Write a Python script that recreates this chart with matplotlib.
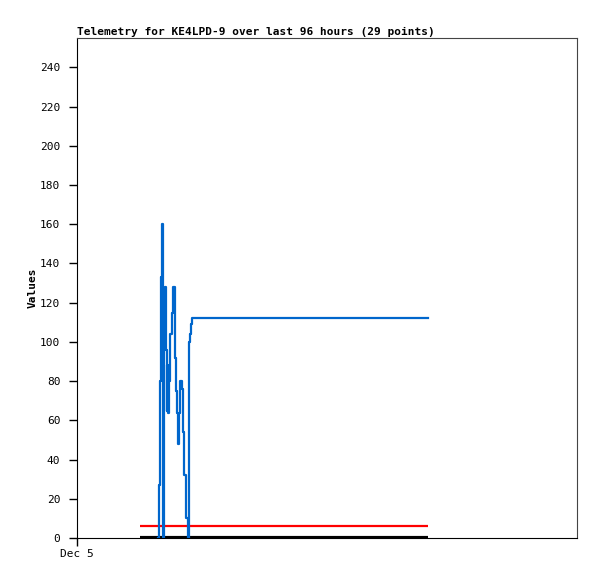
import numpy as np
import matplotlib
matplotlib.use('Agg')
import matplotlib.pyplot as plt

# hours since Dec 5 00:00
blue_t = [19.32, 19.68, 19.92, 20.16, 20.40, 20.64, 20.76, 20.88, 21.12, 21.36, 21.53, 21.60,
          21.84, 22.08, 22.32, 22.68, 23.04, 23.40, 23.76, 24.00, 24.24, 24.48, 24.72, 25.20,
          25.44, 25.68, 26.04, 26.52, 26.76, 26.88, 27.12, 27.36, 27.60, 84.24]
blue_v = [0, 27, 80, 133, 160, 0, 21, 106, 128, 96, 65, 88,
          64, 80, 104, 115, 128, 92, 75, 64, 48, 64, 80, 76,
          54, 32, 10, 0, 48, 100, 104, 109, 112, 112]
red_t = [15.12, 84.24]
red_v = [6, 6]
black_t = [15.12, 84.24]
black_v = [0, 0]

yticks = list(range(0, 241, 20))
xtick_pos = [0]
xtick_lab = ['Dec 5']

plt.rcParams['font.family'] = 'DejaVu Sans Mono'
fig = plt.figure(figsize=(5.97, 5.79), dpi=100)
ax = fig.add_axes([77/597, 41/579, 500/597, 500/579])

ax.plot(black_t, black_v, color='black', lw=3, solid_capstyle='butt', zorder=2)
ax.plot(red_t, red_v, color='#ff0000', lw=1.6, solid_capstyle='butt', zorder=3)
ax.plot(blue_t, blue_v, color='#0066cc', lw=1.6, drawstyle='steps-post', zorder=4)

ax.set_xlim(0, 120)
ax.set_ylim(0, 255)
ax.set_yticks(yticks)
ax.set_yticklabels([str(v) for v in yticks], fontsize=8)
ax.set_xticks(xtick_pos)
ax.set_xticklabels(xtick_lab, fontsize=8)
ax.tick_params(axis='y', direction='out', length=6, width=1, pad=6)
ax.tick_params(axis='x', direction='out', length=6, width=1, pad=2)
ax.set_ylabel('Values', fontsize=8, fontweight='bold', labelpad=1.5)
ax.set_title('Telemetry for KE4LPD-9 over last 96 hours (29 points)', fontsize=8,
             fontweight='bold', loc='left', pad=2)
for s in ['left', 'bottom']:
    ax.spines[s].set_color('black')
for s in ['top', 'right']:
    ax.spines[s].set_color('#444444')

fig.savefig('out.png', dpi=100)
